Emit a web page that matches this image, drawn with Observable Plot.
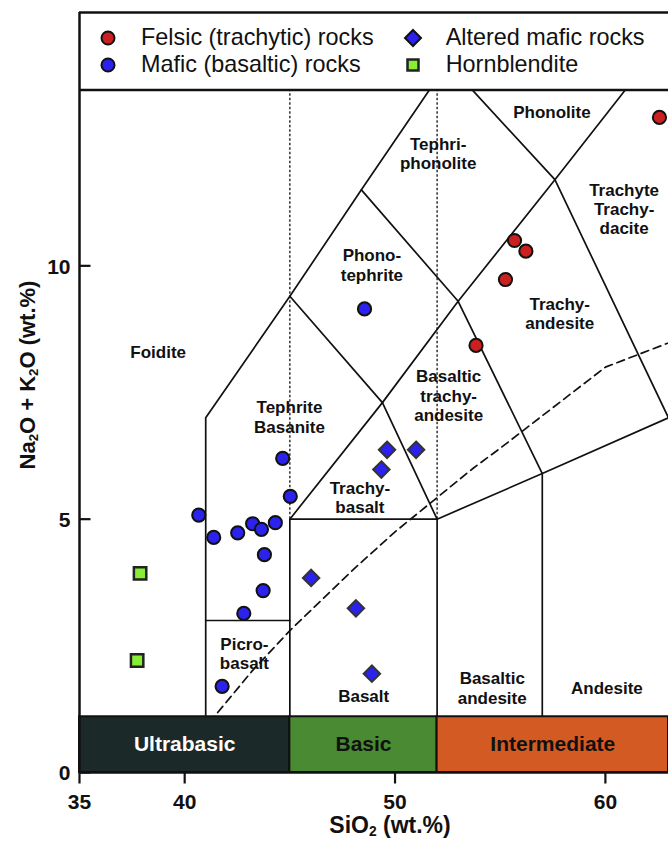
<!DOCTYPE html>
<html><head><meta charset="utf-8">
<script src="https://cdn.jsdelivr.net/npm/d3@7"></script>
<script src="https://cdn.jsdelivr.net/npm/@observablehq/plot@0.6"></script>
<style>
body{margin:0;background:#fff;font-family:"Liberation Sans",Arial,Helvetica,sans-serif;}
#wrap{position:relative;width:668px;height:842px;overflow:hidden;background:#fff;}
#wrap svg.plot-root{position:absolute;left:0;top:0;}
.lg-sym{position:absolute;width:24px;height:24px;}
.lg-txt{position:absolute;font-size:23.4px;line-height:23px;color:#111;white-space:nowrap;}
.title{position:absolute;font-weight:bold;color:#111;white-space:nowrap;}
.title sub{font-size:0.6em;vertical-align:-0.25em;line-height:0;}
</style></head>
<body><div id="wrap"></div>
<script>
// ---------- data ----------
const xDomain = [35, 63];
const yDomain = [0, 15];
const legendLine = 13.47;          // Na2O+K2O level of the legend separator
const xTicks = [35, 40, 50, 60];
const yTicks = [0, 5, 10];

// Felsic (trachytic) rocks
const felsicSiO2 = [62.57, 55.68, 56.22, 55.25, 53.85];
const felsicAlk  = [12.93, 10.50, 10.29, 9.73, 8.43];
// Mafic (basaltic) rocks
const maficSiO2 = [44.66, 45.02, 40.67, 41.38, 42.52, 43.23, 43.65, 44.31, 43.79, 43.73, 42.81, 41.78, 48.55];
const maficAlk  = [6.20, 5.45, 5.08, 4.64, 4.73, 4.91, 4.80, 4.93, 4.30, 3.59, 3.14, 1.70, 9.15];
// Altered mafic rocks
const alteredSiO2 = [49.62, 51.00, 49.35, 46.01, 48.14, 48.90];
const alteredAlk  = [6.37, 6.37, 5.98, 3.84, 3.24, 1.95];
// Hornblendite
const hornSiO2 = [37.88, 37.74];
const hornAlk  = [3.93, 2.21];

// TAS field boundaries (Le Bas et al. 1986)
const tasBoundaries = [
  [[41,0],[41,7],[45,9.4],[48.4,11.5],[52.5,14]],
  [[45,0],[45,5],[49.4,7.3],[53,9.3],[57.6,11.7],[61,13.5],[63,14.56]],
  [[52,0],[52,5],[57,5.9],[63,7]],
  [[57,0],[57,5.9]],
  [[41,3],[45,3]],
  [[45,5],[52,5]],
  [[49.4,7.3],[52,5]],
  [[45,9.4],[49.4,7.3]],
  [[48.4,11.5],[53,9.3],[57,5.9]],
  [[52.5,14],[57.6,11.7],[63,7]]
];
const dottedSiO2 = [45, 52];
const dottedFrom = 5;
// Alkaline / subalkaline divide (Irvine & Baragar 1971)
const irvineBaragar = [[39.2,0],[40,0.4],[43.2,2],[45,2.8],[48,4],[50,4.75],[53.7,6],[55,6.4],[60,8],[65,8.8]];

const fieldNames = ["Foidite","Phono-\ntephrite","Tephri-\nphonolite","Phonolite","Trachyte\nTrachy-\ndacite",
  "Trachy-\nandesite","Basaltic\ntrachy-\nandesite","Tephrite\nBasanite","Trachy-\nbasalt","Picro-\nbasalt",
  "Basalt","Basaltic\nandesite","Andesite"];
const fieldX = [38.74, 48.90, 52.05, 57.46, 60.89, 57.83, 52.55, 44.98, 48.33, 42.84, 48.51, 54.62, 60.07];
const fieldY = [8.31, 10.02, 12.22, 13.03, 11.13, 9.07, 7.44, 7.02, 5.43, 2.35, 1.52, 1.67, 1.68];

const classNames = ["Ultrabasic", "Basic", "Intermediate"];
const classFrom = [35, 45, 52];
const classTo = [45, 52, 63];
const classColors = ["#1b2a28", "#4a8a32", "#d35a22"];
const classTextColors = ["#ffffff", "#111111", "#111111"];
const classBarTop = 1.1;

const seriesNames = ["Felsic (trachytic) rocks", "Mafic (basaltic) rocks", "Altered mafic rocks", "Hornblendite"];
const seriesColors = ["#cc2020", "#2b22ee", "#2b22ee", "#88ee33"];

// ---------- derived tables ----------
const boundaryRows = tasBoundaries.flatMap((pts, id) => pts.map(([x, y]) => ({x, y, id})));
const pts = (xs, ys) => xs.map((x, i) => ({x, y: ys[i]}));
const felsic = pts(felsicSiO2, felsicAlk);
const mafic = pts(maficSiO2, maficAlk);
const altered = pts(alteredSiO2, alteredAlk);
const horn = pts(hornSiO2, hornAlk);
const fields = fieldNames.map((t, i) => ({t, x: fieldX[i], y: fieldY[i]}));
const classes = classNames.map((n, i) => ({n, x1: classFrom[i], x2: classTo[i], fill: classColors[i], tc: classTextColors[i]}));

const tickDown = {draw(ctx){ ctx.moveTo(0, 0); ctx.lineTo(0, 11); }};
const tickRight = {draw(ctx){ ctx.moveTo(0, 0); ctx.lineTo(11, 0); }};
const ink = "#111";
const font = "Liberation Sans, Arial, Helvetica, sans-serif";

const chart = Plot.plot({
  width: 668, height: 842,
  marginLeft: 79, marginRight: 0, marginTop: 12, marginBottom: 70,
  x: {domain: xDomain, axis: null},
  y: {domain: yDomain, axis: null},
  style: {fontFamily: font, background: "#fff", overflow: "hidden"},
  marks: [
    Plot.line(boundaryRows, {x: "x", y: "y", z: "id", stroke: ink, strokeWidth: 1.7, clip: true}),
    Plot.ruleX(dottedSiO2, {x: d => d, y1: dottedFrom, y2: yDomain[1], stroke: ink, strokeWidth: 1.3, strokeDasharray: "2.5,2"}),
    Plot.line(irvineBaragar, {x: d => d[0], y: d => d[1], stroke: ink, strokeWidth: 1.7, strokeDasharray: "8,5", clip: true}),
    Plot.text(fields, {x: "x", y: "y", text: "t", fontSize: 17, fontWeight: "bold", fill: ink, lineHeight: 1.13, lineAnchor: "middle"}),
    Plot.rect(classes, {x1: "x1", x2: "x2", y1: () => 0, y2: () => classBarTop, fill: "fill", stroke: ink, strokeWidth: 2}),
    Plot.text(classes, {x: d => (d.x1 + d.x2) / 2, y: () => classBarTop / 2, text: "n", fill: "tc", fontSize: 21, fontWeight: "bold"}),
    Plot.rect([0], {x1: () => xDomain[0], x2: () => xDomain[1], y1: () => legendLine, y2: () => yDomain[1], fill: "#fff"}),
    Plot.ruleY([0, legendLine, yDomain[1]], {stroke: ink, strokeWidth: 2.5}),
    Plot.ruleX([xDomain[0]], {y1: yDomain[0], y2: yDomain[1], stroke: ink, strokeWidth: 2.5}),
    Plot.dot(horn, {x: "x", y: "y", symbol: "square", r: 7, fill: seriesColors[3], stroke: "#222", strokeWidth: 2.5}),
    Plot.dot(mafic, {x: "x", y: "y", r: 6.6, fill: seriesColors[1], stroke: ink, strokeWidth: 2}),
    Plot.dot(altered, {x: "x", y: "y", symbol: "diamond2", r: 7.4, fill: seriesColors[2], stroke: "#333", strokeWidth: 2}),
    Plot.dot(felsic, {x: "x", y: "y", r: 6.6, fill: seriesColors[0], stroke: ink, strokeWidth: 2}),
    Plot.dot(xTicks, {x: d => d, y: () => yDomain[0], symbol: tickDown, stroke: ink, strokeWidth: 2.2, fill: "none"}),
    Plot.dot(yTicks, {x: () => xDomain[0], y: d => d, symbol: tickRight, stroke: ink, strokeWidth: 2.2, fill: "none"}),
    Plot.text(xTicks, {x: d => d, y: () => yDomain[0], dy: 30, text: d => String(d), fontSize: 21, fontWeight: "bold", fill: ink}),
    Plot.text(yTicks, {x: () => xDomain[0], y: d => d, dx: -9, dy: 1, text: d => String(d), textAnchor: "end", fontSize: 21, fontWeight: "bold", fill: ink})
  ]
});
chart.classList.add("plot-root");
const wrap = document.getElementById("wrap");
wrap.appendChild(chart);

// ---------- legend (inside the top box) ----------
const legendLayout = [
  {sx: 107.7, sy: 37.5, tx: 141, shape: "circle"},
  {sx: 107.7, sy: 64.5, tx: 141, shape: "circle"},
  {sx: 413.3, sy: 37.5, tx: 445.7, shape: "diamond"},
  {sx: 413.3, sy: 64.5, tx: 445.7, shape: "square"}
];
legendLayout.forEach((L, i) => {
  const s = document.createElementNS("http://www.w3.org/2000/svg", "svg");
  s.setAttribute("class", "lg-sym");
  s.setAttribute("viewBox", "-12 -12 24 24");
  s.style.left = (L.sx - 12) + "px";
  s.style.top = (L.sy - 12) + "px";
  let el;
  if (L.shape === "circle") {
    el = document.createElementNS("http://www.w3.org/2000/svg", "circle");
    el.setAttribute("r", 6.5);
  } else if (L.shape === "diamond") {
    el = document.createElementNS("http://www.w3.org/2000/svg", "path");
    el.setAttribute("d", "M0,-8L8,0L0,8L-8,0Z");
  } else {
    el = document.createElementNS("http://www.w3.org/2000/svg", "rect");
    el.setAttribute("x", -5.5); el.setAttribute("y", -5.5);
    el.setAttribute("width", 11); el.setAttribute("height", 11);
  }
  el.setAttribute("fill", seriesColors[i]);
  el.setAttribute("stroke", L.shape === "square" ? "#222" : ink);
  el.setAttribute("stroke-width", L.shape === "square" ? 2.5 : 2);
  s.appendChild(el);
  wrap.appendChild(s);
  const t = document.createElement("div");
  t.className = "lg-txt";
  t.textContent = seriesNames[i];
  t.style.left = L.tx + "px";
  t.style.top = (L.sy + 8.2 - 19.5) + "px";
  wrap.appendChild(t);
});

// ---------- axis titles ----------
const xt = document.createElement("div");
xt.className = "title";
xt.innerHTML = "SiO<sub>2</sub> (wt.%)";
xt.style.fontSize = "23px"; xt.style.lineHeight = "26px";
xt.style.left = "390px"; xt.style.top = "812px"; xt.style.transform = "translateX(-50%)";
wrap.appendChild(xt);

const yt = document.createElement("div");
yt.className = "title";
yt.innerHTML = "Na<sub>2</sub>O + K<sub>2</sub>O (wt.%)";
yt.style.fontSize = "22px"; yt.style.lineHeight = "26px";
yt.style.left = "28px"; yt.style.top = "375px";
yt.style.transform = "translate(-50%,-50%) rotate(-90deg)";
wrap.appendChild(yt);
</script></body></html>
